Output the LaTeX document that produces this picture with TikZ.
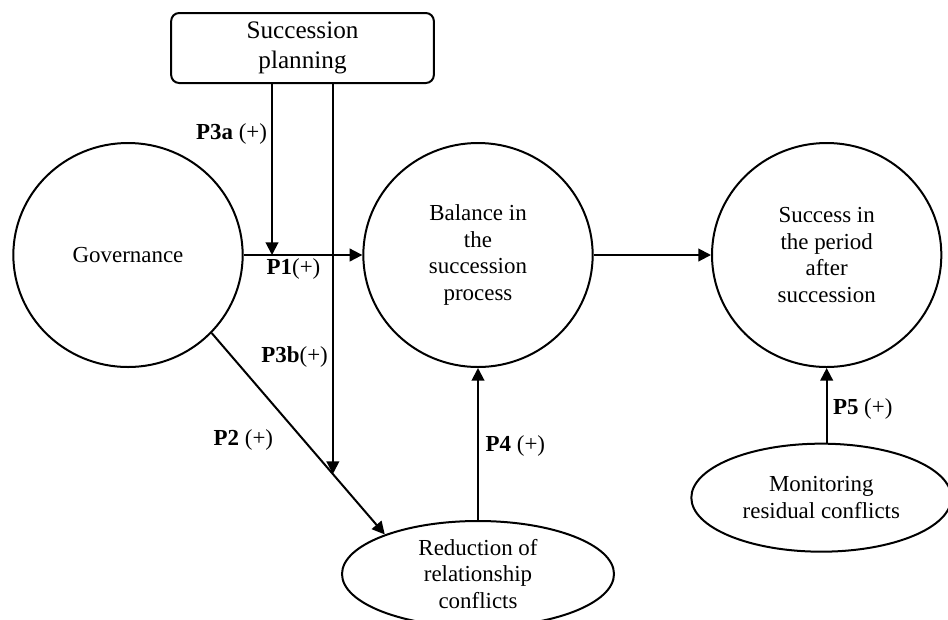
\documentclass[tikz,border=0pt]{standalone}
\usepackage{fontspec}
\setmainfont{Liberation Serif}
\usetikzlibrary{shapes.geometric, arrows.meta, positioning, calc}

\begin{document}
\begin{tikzpicture}[
            x=0.75pt, y=-0.75pt,
            font=\fontsize{17.2}{20}\selectfont,
            line width=1.5pt,
            >={Triangle[length=9.5pt, width=9.5pt]},
            construct/.style={ellipse, draw, align=center, inner sep=0pt, minimum width=172pt, minimum height=168pt},
            factor/.style={ellipse, draw, align=center, inner sep=0pt},
            planbox/.style={rectangle, draw, rounded corners=6pt, align=center, minimum width=197pt, minimum height=52.5pt, font=\fontsize{18.9}{22.5}\selectfont},
            lbl/.style={inner sep=1pt}
        ]
        \useasboundingbox (0,0) rectangle (948,619);

        \node[planbox] (planning) at (302.5,48) {Succession\\planning};
        \node[construct] (gov) at (128,255) {Governance};
        \node[construct, right=89pt of gov] (bal) {Balance in\\the\\succession\\process};
        \node[construct, right=88pt of bal] (succ) {Success in\\the period\\after\\succession};
        \node[factor, minimum width=204pt, minimum height=79.5pt, below=114pt of bal] (red) {Reduction of\\relationship\\conflicts};
        \node[factor, minimum width=195pt, minimum height=81pt, below=56pt of succ, xshift=-4pt] (mon) {Monitoring\\residual conflicts};

        % Main path
        \draw[->] (gov.east) -- node[lbl, pos=0.42, below=1pt] (lP1) {\textbf{P1}(+)} (bal.west);
        \draw[->] (bal.east) -- (succ.west);

        % Planning as moderator
        \coordinate (p3a) at (gov.east -| 272,0);
        \coordinate (p3b) at ($(gov.-43)!0.7!(red.157)$);
        \draw[->] (planning.south -| p3a) -- node[lbl, pos=0.29, left=2pt] (lP3a) {\textbf{P3a} (+)} (p3a);
        \draw[->] (planning.south -| p3b) -- node[lbl, pos=0.7, left=2pt] (lP3b) {\textbf{P3b}(+)} (p3b);

        % Conflicts
        \draw[->] (gov.-43) -- node[lbl, pos=0.53, left=21pt] (lP2) {\textbf{P2} (+)} (red.157);
        \draw[->] (red) -- node[lbl, pos=0.49, right=4pt] (lP4) {\textbf{P4} (+)} (bal);
        \draw[->] (mon.north -| succ) -- node[lbl, pos=0.45, right=3pt] (lP5) {\textbf{P5} (+)} (succ.south);

    \end{tikzpicture}
\end{document}
